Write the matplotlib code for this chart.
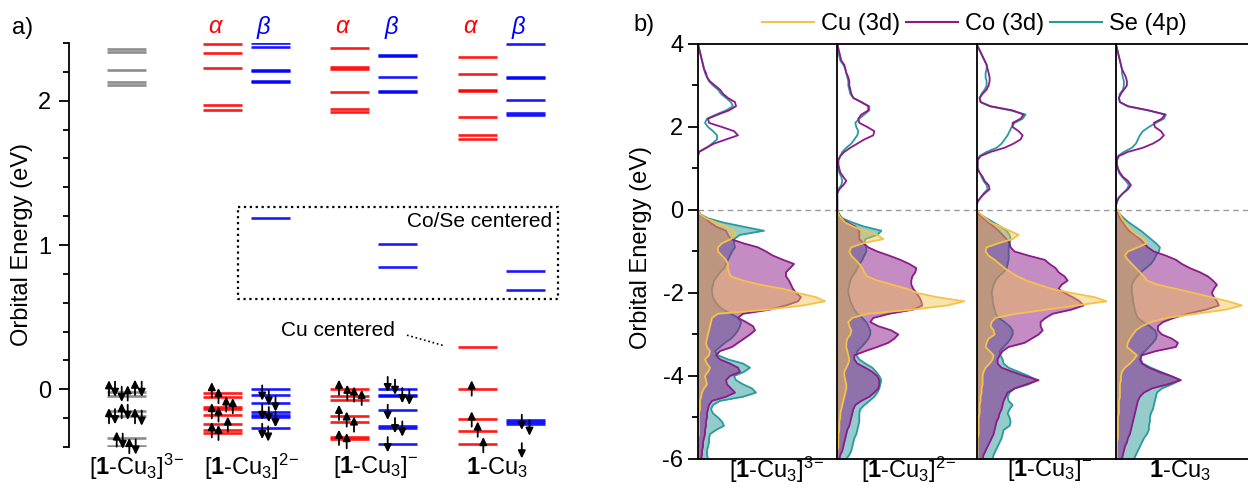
import matplotlib
matplotlib.use("Agg")
import matplotlib.pyplot as plt
from matplotlib.lines import Line2D
from matplotlib.ticker import MultipleLocator

plt.rcParams['font.family'] = ['Liberation Sans', 'DejaVu Sans']
plt.rcParams['mathtext.fontset'] = 'custom'
plt.rcParams['mathtext.rm'] = 'Liberation Sans'
plt.rcParams['mathtext.bf'] = 'Liberation Sans:bold'
plt.rcParams['mathtext.it'] = 'Liberation Sans:italic'
plt.rcParams['font.size'] = 17
plt.rcParams['axes.unicode_minus'] = False

# ---------------- data: panel a (orbital levels, eV) ----------------
species = [r'[$\mathbf{1}$-Cu$_3$]$^{3\!-}$', r'[$\mathbf{1}$-Cu$_3$]$^{2\!-}$',
           r'[$\mathbf{1}$-Cu$_3$]$^{-}$', r'$\mathbf{1}$-Cu$_3$']
group_x = [0.575, 1.77, 3.045, 4.32]
label_x = [0.68, 1.83, 3.065, 4.275]

levels_3m = [2.359, 2.338, 2.213, 2.132, 2.109, -0.02, -0.045, -0.153, -0.183, -0.34, -0.396]
alpha_2m = [2.394, 2.331, 2.224, 1.970, 1.938, -0.025, -0.05, -0.12, -0.14, -0.18, -0.24, -0.28, -0.30]
beta_2m = [2.401, 2.375, 2.215, 2.205, 2.135, 2.128, 1.185, 0.005, -0.043, -0.094, -0.16, -0.175,
           -0.19, -0.265]
alpha_1m = [2.363, 2.235, 2.222, 2.058, 1.944, 1.919, 0.0, -0.049, -0.076, -0.186, -0.224, -0.333, -0.343]
beta_1m = [2.32, 2.31, 2.167, 2.067, 2.06, 1.007, 0.849, 0.003, -0.04, -0.047, -0.147, -0.257, -0.265,
           -0.376]
alpha_0 = [2.303, 2.183, 2.075, 2.066, 1.887, 1.765, 1.738, 0.29, 0.0, -0.204, -0.292, -0.377]
beta_0 = [2.396, 2.165, 2.155, 2.005, 1.912, 1.904, 0.822, 0.685, -0.215, -0.228, -0.238, -0.412]

# electrons: (offset from column centre, energy, +1 up / -1 down)
arrows_3m = [(-0.175, 0.01, 1), (-0.115, 0.0, -1), (-0.048, -0.035, -1), (0.012, -0.025, 1),
             (0.085, 0.014, 1), (0.152, 0.0, -1),
             (-0.175, -0.183, 1), (-0.115, -0.19, -1), (-0.048, -0.148, 1), (0.012, -0.16, -1),
             (0.085, -0.183, 1), (0.152, -0.2, -1),
             (-0.098, -0.345, 1), (-0.038, -0.36, -1), (0.028, -0.39, 1), (0.092, -0.40, -1)]
arrows_a2m = [(-0.102, -0.003, 1), (-0.035, -0.044, 1), (0.042, -0.102, 1), (0.108, -0.113, 1),
              (-0.102, -0.148, 1), (-0.035, -0.171, 1), (0.058, -0.241, 1), (-0.102, -0.28, 1),
              (-0.035, -0.299, 1)]
arrows_b2m = [(-0.078, -0.026, -1), (-0.012, -0.06, -1), (0.055, -0.102, -1), (-0.078, -0.16, -1),
              (-0.012, -0.176, -1), (0.055, -0.21, -1), (-0.078, -0.292, -1), (-0.018, -0.31, -1)]
arrows_a1m = [(-0.105, 0.014, 1), (-0.022, -0.021, 1), (0.045, -0.033, 1), (0.122, -0.056, 1),
              (-0.105, -0.16, 1), (-0.028, -0.206, 1), (0.045, -0.241, 1), (-0.105, -0.333, 1),
              (-0.028, -0.356, 1)]
arrows_b1m = [(-0.098, 0.033, -1), (-0.025, 0.014, -1), (0.048, -0.044, -1), (0.118, -0.056, -1),
              (-0.098, -0.16, -1), (-0.025, -0.252, -1), (0.048, -0.276, -1), (-0.098, -0.384, -1)]
arrows_a0 = [(-0.053, 0.009, 1), (-0.053, -0.206, 1), (0.007, -0.276, 1), (0.063, -0.384, 1)]
arrows_b0 = [(-0.032, -0.229, -1), (0.045, -0.269, -1), (-0.032, -0.426, -1)]

# ---------------- data: panel b (PDOS, arb. units) ----------------
energy_occ = [0.0, -0.1, -0.2, -0.3, -0.4, -0.5, -0.6, -0.7, -0.8, -0.9,
              -1.0, -1.1, -1.2, -1.3, -1.4, -1.5, -1.6, -1.7, -1.8, -1.9,
              -2.0, -2.1, -2.2, -2.3, -2.4, -2.5, -2.6, -2.7, -2.8, -2.9,
              -3.0, -3.1, -3.2, -3.3, -3.4, -3.5, -3.6, -3.7, -3.8, -3.9,
              -4.0, -4.1, -4.2, -4.3, -4.4, -4.5, -4.6, -4.7, -4.8, -4.9,
              -5.0, -5.1, -5.2, -5.3, -5.4, -5.5, -5.6, -5.7, -5.8, -5.9, -6.0]
energy_virt = [0.0, 0.1, 0.2, 0.3, 0.4, 0.5, 0.6, 0.7, 0.8, 0.9,
               1.0, 1.1, 1.2, 1.3, 1.4, 1.5, 1.6, 1.7, 1.8, 1.9,
               2.0, 2.1, 2.2, 2.3, 2.4, 2.5, 2.6, 2.7, 2.8, 2.9,
               3.0, 3.1, 3.2, 3.3, 3.4, 3.5, 3.6, 3.7, 3.8, 3.9, 4.0]

cu_occ_3m = [0, 2, 8, 18, 28, 36, 38, 33, 24, 20, 20, 24, 28, 30, 30, 31, 33, 45, 62, 85,
             100, 118, 127, 105, 70, 20, 14, 13, 12, 11, 10, 9, 8, 9, 12, 11, 7, 9, 12, 10,
             7, 8, 9, 6, 4, 3, 2, 2, 2, 1, 1, 1, 1, 1, 1, 0, 0, 0, 0, 0, 0]
co_occ_3m = [0, 2, 7, 12, 18, 28, 30, 33, 45, 60, 68, 75, 85, 96, 92, 88, 88, 91, 93, 95,
             98, 103, 100, 88, 72, 45, 40, 48, 55, 57, 52, 46, 40, 34, 22, 18, 22, 32, 40, 42,
             32, 28, 29, 33, 37, 28, 14, 11, 10, 9, 9, 8, 8, 7, 7, 6, 5, 5, 4, 4, 3]
se_occ_3m = [0, 2, 10, 25, 45, 66, 42, 36, 36, 37, 34, 32, 30, 28, 26, 22, 19, 16, 15, 14,
             14, 15, 17, 20, 25, 33, 40, 43, 42, 40, 37, 33, 27, 22, 17, 20, 30, 45, 52, 46,
             36, 38, 45, 54, 58, 45, 22, 15, 13, 15, 20, 24, 26, 18, 12, 11, 11, 10, 9, 9, 10]

cu_occ_2m = [0, 1, 4, 8, 16, 26, 40, 46, 26, 14, 12, 14, 18, 22, 25, 27, 30, 40, 55, 70,
             80, 100, 127, 110, 75, 30, 15, 11, 12, 14, 13, 10, 9, 9, 10, 11, 12, 11, 9, 7,
             7, 8, 9, 9, 8, 7, 6, 5, 4, 3, 3, 2, 2, 2, 1, 1, 1, 1, 0, 0, 0]
co_occ_2m = [0, 1, 4, 10, 18, 22, 22, 22, 26, 31, 40, 52, 63, 72, 79, 78, 75, 74, 74, 76,
             79, 82, 84, 85, 76, 52, 36, 33, 41, 54, 61, 57, 51, 40, 28, 17, 17, 20, 28, 35,
             40, 42, 42, 41, 37, 32, 24, 18, 16, 15, 14, 13, 12, 10, 9, 8, 7, 6, 5, 3, 2]
se_occ_2m = [0, 2, 5, 15, 27, 44, 40, 28, 27, 29, 29, 27, 25, 22, 20, 18, 15, 13, 12, 11,
             11, 12, 13, 15, 17, 20, 25, 29, 31, 33, 33, 31, 28, 24, 20, 19, 22, 28, 35, 39,
             42, 44, 43, 42, 40, 37, 32, 27, 23, 22, 22, 22, 21, 20, 19, 17, 16, 15, 14, 12, 9]

cu_occ_1m = [0, 4, 9, 14, 24, 33, 42, 36, 22, 10, 9, 12, 18, 23, 28, 34, 41, 50, 62, 75,
             95, 118, 130, 100, 70, 40, 19, 15, 14, 17, 18, 12, 10, 9, 13, 17, 16, 13, 9, 7,
             6, 6, 6, 5, 5, 4, 4, 3, 3, 3, 2, 2, 2, 2, 2, 1, 1, 1, 1, 1, 1]
co_occ_1m = [0, 2, 7, 12, 17, 22, 26, 30, 33, 34, 38, 52, 68, 73, 79, 82, 88, 91, 85, 82,
             88, 96, 103, 107, 95, 76, 69, 64, 64, 66, 62, 55, 48, 32, 26, 23, 21, 21, 25, 36,
             48, 62, 50, 38, 31, 29, 27, 26, 25, 23, 22, 20, 19, 18, 17, 15, 13, 11, 9, 7, 6]
se_occ_1m = [0, 3, 10, 17, 24, 30, 33, 34, 33, 32, 32, 32, 32, 31, 30, 27, 22, 19, 17, 16,
             15, 16, 16, 17, 18, 19, 22, 28, 33, 36, 36, 34, 31, 27, 23, 24, 26, 27, 32, 42,
             52, 60, 52, 38, 33, 31, 32, 36, 33, 31, 33, 34, 33, 27, 26, 25, 23, 21, 19, 17, 16]

cu_occ_0 = [2, 4, 6, 9, 12, 16, 21, 28, 31, 22, 12, 9, 12, 16, 20, 24, 28, 31, 42, 60,
            78, 95, 112, 126, 110, 80, 51, 35, 26, 20, 17, 14, 12, 11, 16, 21, 18, 14, 9, 6,
            5, 5, 4, 4, 4, 4, 3, 3, 3, 3, 2, 2, 2, 2, 2, 2, 1, 1, 1, 1, 1]
co_occ_0 = [1, 2, 4, 7, 10, 13, 19, 24, 28, 32, 38, 50, 60, 66, 74, 84, 92, 97, 101, 98,
            96, 98, 101, 103, 90, 72, 58, 47, 42, 42, 46, 56, 62, 60, 40, 26, 24, 26, 33, 43,
            55, 65, 52, 36, 28, 24, 22, 21, 20, 19, 18, 17, 16, 15, 14, 12, 11, 9, 8, 7, 6]
se_occ_0 = [1, 4, 8, 13, 19, 25, 30, 35, 40, 44, 43, 40, 38, 35, 30, 25, 21, 18, 16, 16,
            16, 17, 17, 18, 19, 20, 22, 27, 34, 39, 41, 40, 37, 33, 29, 25, 25, 27, 35, 45,
            55, 64, 56, 46, 41, 40, 39, 38, 37, 35, 34, 34, 33, 33, 31, 28, 26, 24, 22, 20, 18]

co_virt_3m = [0, 0, 0, 0, 0, 0, 0, 0, 0, 0, 0, 0, 0, 0, 1, 8, 16, 28, 40, 36,
              24, 11, 10, 20, 31, 38, 37, 30, 25, 22, 17, 12, 9, 8, 6, 5, 4, 3, 2, 1, 0]
se_virt_3m = [0, 0, 0, 0, 0, 0, 0, 0, 0, 0, 0, 0, 0, 0, 1, 9, 14, 19, 19, 15,
              10, 7, 9, 18, 28, 35, 33, 28, 23, 20, 15, 11, 9, 7, 6, 5, 4, 3, 2, 1, 0]
co_virt_2m = [0, 0, 0, 0, 0, 2, 6, 9, 6, 3, 2, 1, 1, 3, 7, 13, 20, 27, 36, 37,
              30, 22, 21, 24, 31, 31, 24, 16, 14, 13, 12, 12, 11, 9, 8, 7, 4, 3, 2, 1, 0]
se_virt_2m = [0, 0, 0, 0, 0, 1, 4, 5, 4, 2, 1, 1, 1, 3, 5, 9, 14, 17, 20, 21,
              19, 18, 22, 27, 32, 32, 24, 16, 13, 12, 11, 11, 10, 9, 8, 6, 3, 2, 1, 1, 0]
co_virt_1m = [0, 0, 1, 4, 8, 13, 12, 8, 6, 3, 1, 1, 1, 4, 14, 28, 37, 44, 46, 42,
              36, 36, 44, 47, 36, 14, 4, 3, 6, 10, 12, 13, 13, 12, 11, 10, 8, 6, 4, 2, 0]
se_virt_1m = [0, 0, 1, 4, 7, 11, 10, 7, 5, 3, 1, 1, 1, 3, 10, 20, 25, 28, 31, 33,
              35, 38, 46, 49, 34, 13, 4, 3, 5, 8, 10, 10, 9, 9, 10, 10, 8, 6, 4, 2, 0]
co_virt_0 = [0, 0, 1, 3, 7, 12, 15, 12, 7, 4, 2, 1, 1, 3, 12, 27, 37, 44, 48, 45,
             39, 38, 46, 49, 33, 12, 4, 3, 5, 8, 11, 11, 10, 8, 6, 5, 4, 3, 2, 1, 0]
se_virt_0 = [0, 0, 1, 3, 7, 11, 13, 10, 6, 3, 2, 1, 1, 2, 8, 16, 20, 22, 24, 27,
             33, 40, 48, 50, 32, 12, 4, 3, 4, 7, 8, 8, 7, 6, 6, 5, 4, 3, 2, 1, 0]

dos_label_x = [78.5, 71.5, 73.5, 64.5]

red, blue, gray = '#ff0000', '#0000ff', '#808080'
cu_col, co_col, se_col = '#f3c24a', '#8c1a8a', '#2a9a9a'

fig = plt.figure(figsize=(12.48, 4.91), dpi=100)

# ---------------- panel a ----------------
ax = fig.add_axes([69 / 1248, 1 - 447 / 491, 531 / 1248, 404 / 491])
ax.set_xlim(0, 5.31)
ax.set_ylim(-0.4, 2.4)
for s in ['top', 'right', 'bottom']:
    ax.spines[s].set_visible(False)
ax.spines['left'].set_linewidth(1.3)
ax.set_xticks([])
ax.yaxis.set_major_locator(MultipleLocator(1))
ax.yaxis.set_minor_locator(MultipleLocator(0.2))
ax.tick_params(axis='y', which='major', length=7, width=1.3, pad=6, labelsize=17)
ax.tick_params(axis='y', which='minor', length=4, width=1.3)
ax.set_ylabel('Orbital Energy (eV)', fontsize=17)
ax.yaxis.set_label_coords(-0.068, 0.5)

dx = 0.24
half_w = 0.195
columns = [
    (group_x[0], levels_3m, gray, arrows_3m),
    (group_x[1] - dx, alpha_2m, red, arrows_a2m),
    (group_x[1] + dx, beta_2m, blue, arrows_b2m),
    (group_x[2] - dx, alpha_1m, red, arrows_a1m),
    (group_x[2] + dx, beta_1m, blue, arrows_b1m),
    (group_x[3] - dx, alpha_0, red, arrows_a0),
    (group_x[3] + dx, beta_0, blue, arrows_b0),
]
for xc, lev, col, arr in columns:
    ax.hlines(lev, xc - half_w, xc + half_w, color=col, lw=1.9, alpha=0.9)
    for off, e, d in arr:
        ax.annotate('', xy=(xc + off, e + 0.053 * d), xytext=(xc + off, e - 0.053 * d),
                    arrowprops=dict(arrowstyle='-|>,head_length=0.45,head_width=0.22',
                                    mutation_scale=10, color='black', lw=1.3,
                                    shrinkA=0, shrinkB=0),
                    annotation_clip=False)

for g in group_x[1:]:
    ax.text(g - dx - 0.06, 2.51, r'$\alpha$', color=red, fontsize=17, ha='center', va='center')
    ax.text(g + dx - 0.06, 2.51, r'$\beta$', color=blue, fontsize=17, ha='center', va='center')

for x, name in zip(label_x, species):
    ax.text(x, -0.54, name, ha='center', va='center', fontsize=17, clip_on=False)

# Co/Se box and Cu note
ax.plot([1.69, 4.89, 4.89, 1.69, 1.69], [1.264, 1.264, 0.625, 0.625, 1.264],
        color='black', ls=':', lw=1.6)
ax.text(4.83, 1.16, 'Co/Se centered', ha='right', va='center', fontsize=15)
ax.text(3.26, 0.41, 'Cu centered', ha='right', va='center', fontsize=15)
ax.plot([3.38, 3.76], [0.375, 0.30], color='black', ls=':', lw=1.2)

fig.text(12 / 1248, 1 - 28 / 491, 'a)', fontsize=17, ha='left', va='center')

# ---------------- panel b ----------------
occ = [(cu_occ_3m, co_occ_3m, se_occ_3m), (cu_occ_2m, co_occ_2m, se_occ_2m),
       (cu_occ_1m, co_occ_1m, se_occ_1m), (cu_occ_0, co_occ_0, se_occ_0)]
virt = [(co_virt_3m, se_virt_3m), (co_virt_2m, se_virt_2m),
        (co_virt_1m, se_virt_1m), (co_virt_0, se_virt_0)]

panel_w = 139.3
for i in range(4):
    axb = fig.add_axes([(698 + i * panel_w) / 1248, 1 - 459 / 491, panel_w / 1248, 415 / 491])
    axb.set_xlim(0, panel_w)
    axb.set_ylim(-6, 4)
    cu, co, se = occ[i]
    cov, sev = virt[i]
    axb.axhline(0, color='#9a9a9a', ls='--', lw=1, dashes=(4, 3), zorder=0)
    axb.fill_betweenx(energy_occ, 0, se, color=se_col, alpha=0.5, lw=0, zorder=1)
    axb.plot(se, energy_occ, color=se_col, lw=1.3, zorder=2)
    axb.fill_betweenx(energy_occ, 0, co, color=co_col, alpha=0.5, lw=0, zorder=3)
    axb.plot(co, energy_occ, color=co_col, lw=1.3, zorder=4)
    axb.fill_betweenx(energy_occ, 0, cu, color=cu_col, alpha=0.45, lw=0, zorder=5)
    axb.plot(cu, energy_occ, color=cu_col, lw=1.3, zorder=6)
    axb.plot(sev, energy_virt, color=se_col, lw=1.3, zorder=4)
    axb.plot(cov, energy_virt, color=co_col, lw=1.3, zorder=5)
    axb.spines['right'].set_visible(False)
    for s in ['top', 'bottom', 'left']:
        axb.spines[s].set_linewidth(1.3)
        axb.spines[s].set_zorder(10)
    axb.set_xticks([])
    axb.text(dos_label_x[i], -6.27, species[i], ha='center', va='center', fontsize=17,
             clip_on=False)
    if i == 0:
        axb.yaxis.set_major_locator(MultipleLocator(2))
        axb.yaxis.set_minor_locator(MultipleLocator(1))
        axb.tick_params(axis='y', which='major', length=7, width=1.3, labelsize=17)
        axb.tick_params(axis='y', which='minor', length=4, width=1.3)
        axb.set_ylabel('Orbital Energy (eV)', fontsize=17)
        axb.yaxis.set_label_coords(-0.33, 0.51)
    else:
        axb.tick_params(axis='y', which='both', left=False, labelleft=False)

fig.text(633 / 1248, 1 - 25 / 491, 'b)', fontsize=17, ha='left', va='center')

handles = [Line2D([], [], color=cu_col, lw=1.5), Line2D([], [], color=co_col, lw=1.5),
           Line2D([], [], color=se_col, lw=1.5)]
fig.legend(handles, ['Cu (3d)', 'Co (3d)', 'Se (4p)'], loc='center',
           bbox_to_anchor=(0.781, 1 - 24 / 491), ncol=3, frameon=False, fontsize=17,
           handlelength=2.2, handletextpad=0.3, columnspacing=0.25)

fig.savefig('out.png', dpi=100)
